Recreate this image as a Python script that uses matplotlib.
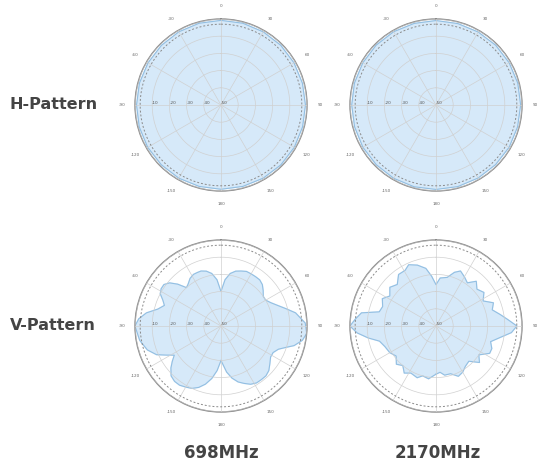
import numpy as np
import matplotlib.pyplot as plt

# radiation pattern data, angle in degrees (0 = top, clockwise), gain in dB
h_ang = [0, 15, 30, 45, 60, 75, 90, 105, 120, 135, 150, 165, 180,
         195, 210, 225, 240, 255, 270, 285, 300, 315, 330, 345, 360]
h_698 = [-0.8, -0.8, -0.9, -0.9, -1.0, -1.0, -0.9, -0.9, -0.8, -0.8, -0.9, -1.0, -1.0,
         -1.0, -0.9, -0.9, -0.8, -0.8, -0.9, -0.9, -1.0, -1.0, -0.9, -0.8, -0.8]
h_2170 = [-0.9, -1.0, -1.0, -0.9, -0.9, -0.8, -0.8, -0.9, -0.9, -1.0, -1.0, -0.9, -0.9,
          -0.8, -0.8, -0.9, -0.9, -1.0, -1.0, -0.9, -0.9, -0.8, -0.8, -0.9, -0.9]

v698_ang = [-180, -175, -170, -165, -160, -155, -150, -145, -140, -135, -130, -126, -122,
            -118, -114, -108, -100, -90, -85, -80, -75, -70, -66, -62, -58, -54, -50,
            -46, -42, -38, -33, -28, -24, -20, -15, -10, -5, 0, 5, 10, 15, 20, 25, 30,
            35, 40, 45, 50, 55, 60, 65, 70, 75, 80, 88, 95, 100, 105, 108, 112, 117,
            122, 128, 133, 138, 143, 148, 153, 158, 163, 168, 173, 180]
v698_db = [-30, -24, -19, -15, -12, -10, -9, -8, -8, -9, -12, -15, -18,
           -14, -9, -5, -2, 0, -2, -6, -12, -15, -13, -10, -9, -9, -11,
           -15, -20, -19, -17, -16, -16, -16, -17, -19, -23, -30, -23, -19, -17, -16, -15, -15,
           -15, -15, -16, -18, -20, -20, -18, -15, -11, -6, -1, 0, -2, -6, -10, -14, -16,
           -16, -14, -12, -11, -11, -11, -12, -14, -16, -19, -23, -30]

v2170_ang = [-180, -172, -165, -160, -152, -146, -140, -134, -127, -120, -112, -105,
             -100, -95, -90, -85, -80, -76, -70, -63, -57, -50, -43, -36, -29, -24,
             -17, -10, -5, 0, 5, 13, 19, 24, 30, 36, 42, 48, 55, 62, 68, 74, 80, 85,
             90, 95, 100, 106, 112, 117, 124, 130, 137, 144, 150, 156, 163, 170, 175, 180]
v2170_db = [-22, -19, -20, -18, -19, -17, -20, -18, -21, -19, -18, -16,
            -10, -4, 0, -3, -6, -16, -17, -15, -18, -15, -17, -13, -13, -11,
            -13, -16, -21, -26, -22, -21, -17, -15, -17, -19, -15, -18, -16, -19, -14, -16, -12, -8,
            -3, -6, -12, -17, -15, -15, -20, -17, -22, -21, -19, -18, -21, -21, -23, -22]

r_ticks = [-50, -40, -30, -20, -10, 0]
r_labels = ['-50', '-40', '-30', '-20', '-10', '']
t_ticks = list(range(0, 360, 30))
t_labels = ['0', '30', '60', '90', '120', '150', '180', '-150', '-120', '-90', '-60', '-30']

fill_c = '#d6e9f9'
edge_c = '#93bfe2'

fig = plt.figure(figsize=(5.4, 4.61), dpi=100)

# axes boxes in figure fraction (left, bottom, width, height)
w, h = 172 / 540, 172 / 461
panels = [
    ([(221 - 86) / 540, 1 - (105 + 86) / 461, w, h], h_ang, h_698),
    ([(436 - 86) / 540, 1 - (105 + 86) / 461, w, h], h_ang, h_2170),
    ([(221 - 86) / 540, 1 - (326 + 86) / 461, w, h], v698_ang, v698_db),
    ([(436 - 86) / 540, 1 - (326 + 86) / 461, w, h], v2170_ang, v2170_db),
]

for rect, ang, db in panels:
    ax = fig.add_axes(rect, projection='polar')
    ax.set_theta_zero_location('N')
    ax.set_theta_direction(-1)
    th = np.deg2rad(ang)
    ax.fill(th, db, color=fill_c, zorder=1)
    ax.plot(th, db, color=edge_c, lw=0.8, zorder=2)
    # -3 dB reference circle
    tt = np.linspace(0, 2 * np.pi, 200)
    ax.plot(tt, np.full_like(tt, -3.0), color='#8a8a8a', lw=0.7, ls=(0, (2, 2)), zorder=3)
    ax.set_ylim(-50, 0)
    ax.set_yticks(r_ticks)
    ax.set_yticklabels(r_labels, fontsize=3, color='#555555')
    ax.set_rlabel_position(270)
    ax.set_thetagrids(t_ticks, t_labels, fontsize=3, color='#666666')
    ax.tick_params(axis='x', pad=-1)
    ax.grid(color='#d0d0d0', lw=0.5)
    ax.spines['polar'].set_color('#8a8a8a')
    ax.spines['polar'].set_linewidth(1.0)
    ax.set_axisbelow(False)

lab_font = ['Liberation Sans Narrow', 'DejaVu Sans']
fig.text(0.018, 0.773, 'H-Pattern', fontsize=11.5, family=lab_font, weight='bold',
         color='#444444', va='center')
fig.text(0.018, 0.295, 'V-Pattern', fontsize=11.5, family=lab_font, weight='bold',
         color='#444444', va='center')
fig.text(0.409, 0.017, '698MHz', fontsize=12, family=lab_font, weight='bold',
         color='#444444', ha='center', va='center')
fig.text(0.81, 0.017, '2170MHz', fontsize=12, family=lab_font, weight='bold',
         color='#444444', ha='center', va='center')

fig.savefig('out.png', dpi=100)
